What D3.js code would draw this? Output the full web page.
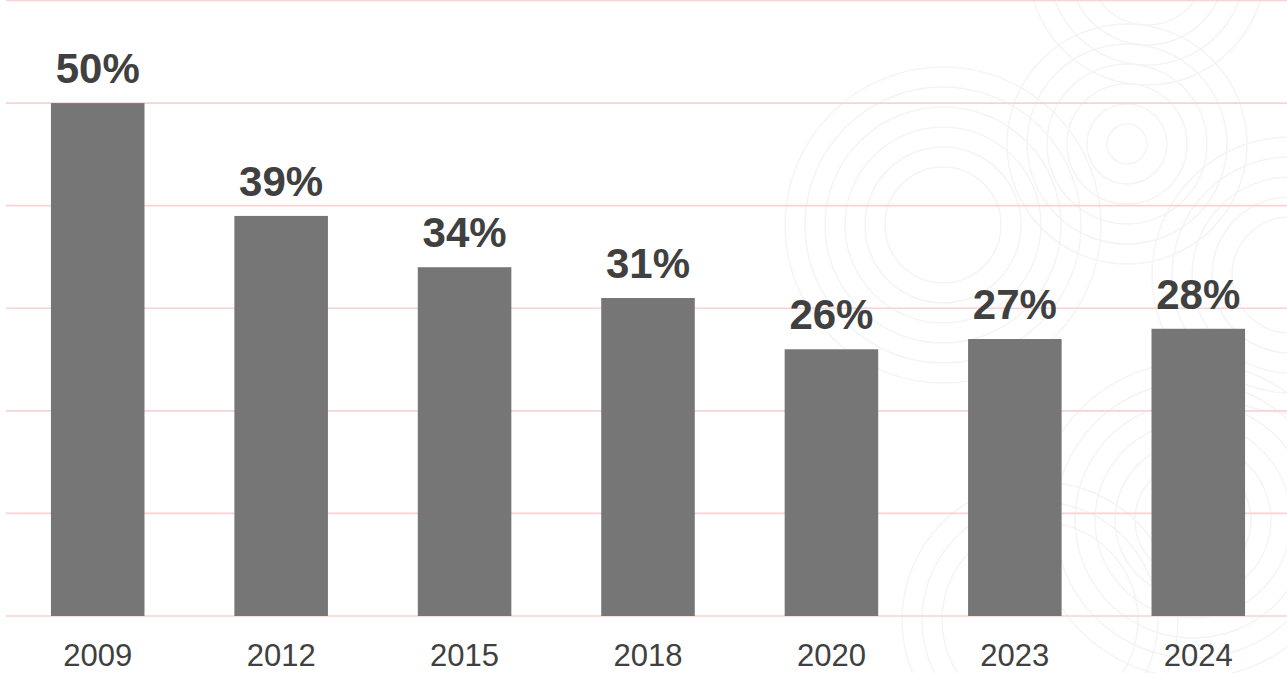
<!DOCTYPE html>
<html>
<head>
<meta charset="utf-8">
<script src="https://cdn.jsdelivr.net/npm/d3@7/dist/d3.min.js"></script>
<style>
  html, body { margin: 0; padding: 0; background: #ffffff; }
  svg { display: block; }
</style>
</head>
<body>
<svg id="chart" width="1287" height="673"></svg>
<script>
// Survey years and share per year (percent)
const years = ["2009", "2012", "2015", "2018", "2020", "2023", "2024"];
const shares = [50, 39, 34, 31, 26, 27, 28];
// Gridline values on the value axis
const gridTicks = [0, 10, 20, 30, 40, 50, 60];

// Decorative ring clusters in the background: centre and ring radii
const ringSets = [
  { c: [943, 225],  r: [58, 78, 98, 118, 138, 158] },
  { c: [1127, 144], r: [20, 40, 60, 80, 100, 120] },
  { c: [1147, -33], r: [58, 78, 98, 118] },
  { c: [1290, 275], r: [58, 78, 98, 118, 138] },
  { c: [1193, 520], r: [58, 78, 98, 118, 138, 158] },
  { c: [1040, 620], r: [98, 118, 138] }
];

const W = 1287, H = 673;
const svg = d3.select("#chart");

const x = d3.scaleBand()
  .domain(years)
  .range([6, 1290])
  .paddingInner(0.49)
  .paddingOuter(0.245);

const y = d3.scaleLinear()
  .domain([0, 60])
  .range([616, 0.5]);

// Background rings
const rings = svg.append("g").attr("class", "rings");
ringSets.forEach(s => {
  rings.append("g")
    .selectAll("circle")
    .data(s.r)
    .join("circle")
    .attr("cx", s.c[0])
    .attr("cy", s.c[1])
    .attr("r", d => d)
    .attr("fill", "none")
    .attr("stroke", "#f4f4f4")
    .attr("stroke-width", 1.5);
});

// Horizontal gridlines
svg.append("g")
  .selectAll("line")
  .data(gridTicks)
  .join("line")
  .attr("x1", 6)
  .attr("x2", W)
  .attr("y1", d => y(d))
  .attr("y2", d => y(d))
  .attr("stroke", "#f8d3d3")
  .attr("stroke-width", 1.6);

// Bars
svg.append("g")
  .selectAll("rect")
  .data(years)
  .join("rect")
  .attr("x", d => x(d))
  .attr("width", x.bandwidth())
  .attr("y", (d, i) => y(shares[i]))
  .attr("height", (d, i) => y(0) - y(shares[i]))
  .attr("fill", "#767676");

// Value labels above bars
svg.append("g")
  .selectAll("text")
  .data(years)
  .join("text")
  .attr("x", d => x(d) + x.bandwidth() / 2)
  .attr("y", (d, i) => y(shares[i]) - 20)
  .attr("text-anchor", "middle")
  .attr("font-family", "'Liberation Sans', Arial, sans-serif")
  .attr("font-weight", "bold")
  .attr("font-size", 42)
  .attr("fill", "#404040")
  .text((d, i) => shares[i] + "%");

// Category axis labels
const xAxis = d3.axisBottom(x).tickSize(0).tickPadding(0);
const gx = svg.append("g")
  .attr("transform", "translate(0,666)")
  .call(xAxis);
gx.select(".domain").remove();
gx.selectAll("text")
  .attr("dy", 0)
  .attr("font-family", "'Liberation Sans', Arial, sans-serif")
  .attr("font-size", 31)
  .attr("fill", "#404040");
</script>
</body>
</html>
